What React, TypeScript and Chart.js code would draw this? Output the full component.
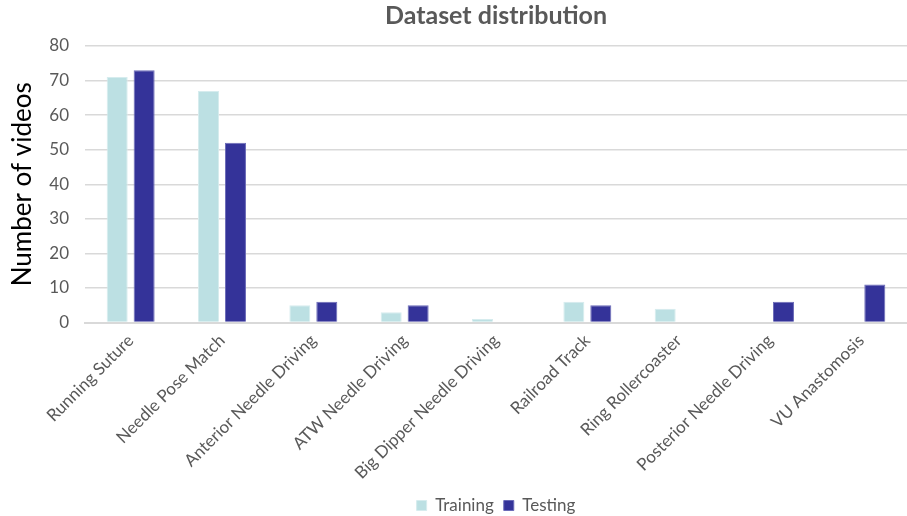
import React, { useEffect, useRef } from "react";
import { Chart, registerables } from "chart.js";

Chart.register(...registerables);

const categories = [
  "Running Suture",
  "Needle Pose Match",
  "Anterior Needle Driving",
  "ATW Needle Driving",
  "Big Dipper Needle Driving",
  "Railroad Track",
  "Ring Rollercoaster",
  "Posterior Needle Driving",
  "VU Anastomosis",
];
const training = [71, 67, 5, 3, 1, 6, 4, 0, 0];
const testing = [73, 52, 6, 5, 0, 5, 0, 6, 11];
const yTicks = [0, 10, 20, 30, 40, 50, 60, 70, 80];

const FONT = "Lato, 'Open Sans', sans-serif";
const GREY = "#595959";

export default function App() {
  const ref = useRef<HTMLCanvasElement>(null);
  useEffect(() => {
    document.body.style.margin = "0";
    const chart = new Chart(ref.current!, {
      type: "bar",
      data: {
        labels: categories,
        datasets: [
          {
            label: "Training",
            data: training,
            backgroundColor: "#BCE0E3",
            borderColor: "#D6ECEE",
            borderWidth: 1,
            barPercentage: 0.78,
            categoryPercentage: 0.59,
          },
          {
            label: "Testing",
            data: testing,
            backgroundColor: "#343399",
            borderColor: "#6B6BB8",
            borderWidth: 1,
            barPercentage: 0.78,
            categoryPercentage: 0.59,
          },
        ],
      },
      options: {
        animation: false,
        responsive: false,
        maintainAspectRatio: false,
        layout: { padding: { left: 0, right: 0, top: 0, bottom: -8 } },
        plugins: {
          title: {
            display: true,
            fullSize: false,
            text: "Dataset distribution",
            color: GREY,
            font: { family: FONT, size: 25, weight: "bold" },
            padding: { top: 1, bottom: 15 },
          },
          legend: {
            position: "bottom",
            fullSize: false,
            labels: {
              color: GREY,
              font: { family: FONT, size: 17 },
              boxWidth: 10,
              boxHeight: 10,
              padding: 10,
            },
          },
          tooltip: { enabled: false },
        },
        scales: {
          x: {
            grid: { display: false, drawTicks: false },
            border: { color: "#d9d9d9", width: 2 },
            afterFit: (scale: any) => {
              scale.paddingLeft = 0;
              scale.height -= 4;
            },
            ticks: {
              color: GREY,
              font: { family: FONT, size: 17 },
              maxRotation: 45,
              minRotation: 45,
              padding: 8,
              autoSkip: false,
            },
          },
          y: {
            min: 0,
            max: 80,
            afterBuildTicks: (axis: any) => {
              axis.ticks = yTicks.map((v) => ({ value: v }));
            },
            afterFit: (scale: any) => {
              scale.width = 85;
            },
            grid: { color: "#d9d9d9", lineWidth: 1.5, drawTicks: false },
            border: { display: false },
            ticks: {
              color: GREY,
              font: { family: FONT, size: 17 },
              padding: 16,
            },
            title: {
              display: true,
              text: "Number of videos",
              color: "#000000",
              font: { family: FONT, size: 26 },
              padding: { top: 7, bottom: 12 },
            },
          },
        },
      },
    });
    return () => chart.destroy();
  }, []);
  return (
    <div style={{ width: 907, height: 516 }}>
      <canvas ref={ref} width={907} height={516} style={{ display: "block" }} />
    </div>
  );
}
